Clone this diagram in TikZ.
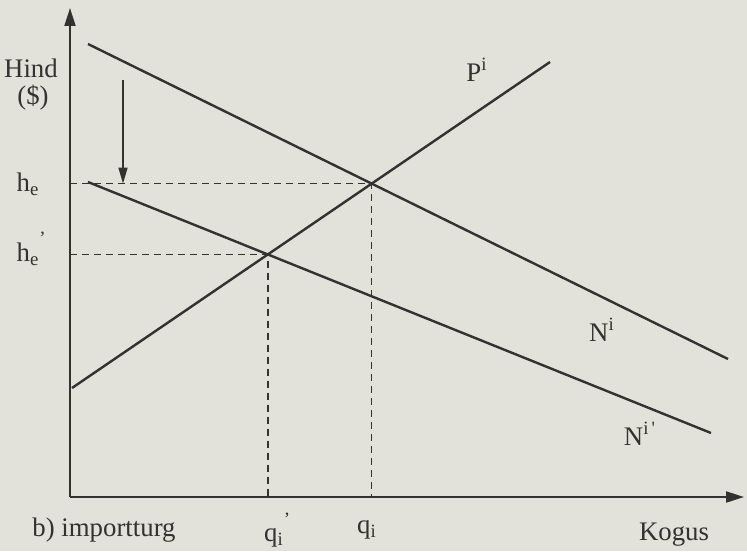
\documentclass[tikz,border=0pt]{standalone}
\usepackage{fontspec}
\setmainfont{Liberation Serif}
\usepackage{tikz}
\usetikzlibrary{arrows.meta,positioning,calc}
\definecolor{ScanPaper}{RGB}{226,225,218}
\definecolor{ScanInk}{RGB}{50,50,48}
\tikzset{
  axis/.style={line width=1pt, draw=ScanInk, -{Triangle[length=9pt,width=5.5pt]}},
  curve/.style={line width=1.2pt, draw=ScanInk},
  guide/.style={line width=0.8pt, draw=ScanInk, dash pattern=on 3.5pt off 2.5pt},
  shiftarr/.style={line width=0.7pt, draw=ScanInk, -{Triangle[length=8pt,width=4.5pt]}},
  lbl/.style={text=ScanInk, font=\fontsize{13.4}{15}\selectfont, inner sep=1pt}
}

\begin{document}
\begin{tikzpicture}[x=0.5pt,y=-0.5pt]
\fill[ScanPaper] (0,0) rectangle (747,551);
\useasboundingbox (0,0) rectangle (747,551);
% axes
\coordinate (o) at (70,497);
\coordinate (ytop) at (70,8);
\coordinate (xend) at (744,497);
\draw[axis] (o) -- (ytop);
\draw[axis] (o) -- (xend);
% import demand, shifted demand, supply
\coordinate (n1) at (88,44);
\coordinate (n2) at (728,359);
\coordinate (m1) at (88,182);
\coordinate (m2) at (711,433);
\coordinate (p1) at (72,388);
\coordinate (p2) at (550,62);
\draw[curve] (n1) -- (n2);
\draw[curve] (m1) -- (m2);
\draw[curve] (p1) -- (p2);
% equilibria
\coordinate (eq) at (intersection of n1--n2 and p1--p2);
\coordinate (eqb) at (intersection of m1--m2 and p1--p2);
\draw[guide] (o |- eq) -- (eq) -- (o -| eq);
\draw[guide] (o |- eqb) -- (eqb) -- (o -| eqb);
% price shift
\coordinate (s1) at (123,80);
\draw[shiftarr] (s1) -- (s1 |- eq);
% labels
\node[lbl] (hind) at (31,68) {Hind};
\node[lbl] (dollar) at (33,98) {(\$)};
\node[lbl] (he) at (28,184) {h\textsubscript{e}};
\node[lbl] (heb) at (28,249) {h\rlap{\raisebox{3pt}{\textsuperscript{\,\,\,'}}}\textsubscript{e}};
\node[lbl] (qb) at (274,530) {q\rlap{\raisebox{3pt}{\textsuperscript{\,\,'}}}\textsubscript{i}};
\node[lbl] (q) at (367,530) {q\textsubscript{i}};
\node[lbl] (plbl) at (477,70) {P\textsuperscript{i}};
\node[lbl] (nlbl) at (602,330) {N\textsuperscript{i}};
\node[lbl] (mlbl) at (640,434) {N\textsuperscript{i\,\textquotesingle}};
\node[lbl] (mode) at (104,530) {b) importturg};
\node[lbl] (kogus) at (674,535) {Kogus};
\end{tikzpicture}
\end{document}
